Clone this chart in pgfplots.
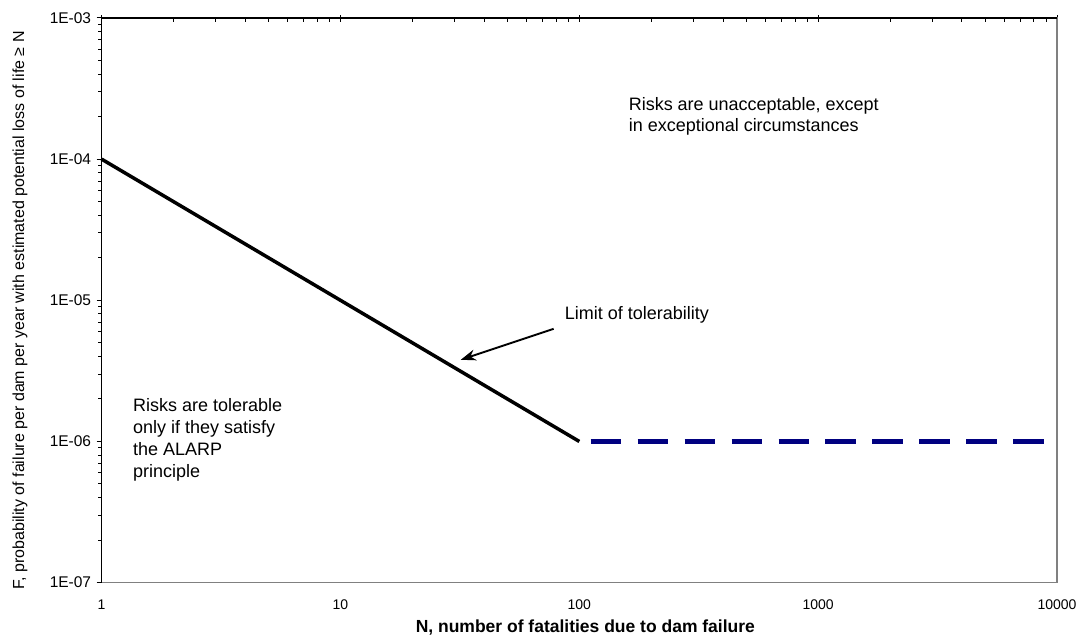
\documentclass[border=0pt]{standalone}
\usepackage{pgfplots}
\pgfplotsset{compat=1.18}
\usetikzlibrary{arrows.meta}
\usepackage{fontspec}
\setmainfont{Liberation Sans}
\definecolor{navyline}{RGB}{0,0,128}
\definecolor{frame}{RGB}{128,128,128}
\begin{document}
\begin{tikzpicture}
\begin{axis}[
  scale only axis,
  width=956pt, height=565pt,
  xmode=log, ymode=log,
  xmin=1, xmax=10000, ymin=1e-7, ymax=1e-3,
  axis line style={draw=frame, line width=1.3pt},
  xtick={1,10,100,1000,10000},
  xticklabels={1,10,100,1000,10000},
  ytick={1e-7,1e-6,1e-5,1e-4,1e-3},
  yticklabels={1E-07,1E-06,1E-05,1E-04,1E-03},
  xtick pos=right, xticklabel pos=left,
  ytick pos=left, yticklabel pos=left,
  tick align=outside,
  major tick length=5pt, minor tick length=3.6pt,
  every tick/.style={black, line width=1pt},
  minor x tick style={yshift=-3.6pt},
  major x tick style={yshift=-2.5pt},
  /pgf/number format/assume math mode=true,
  xticklabel style={font=\fontsize{14}{16}\selectfont, yshift=-9pt},
  yticklabel style={font=\fontsize{15.5}{18}\selectfont, xshift=-2pt},
  xlabel={N, number of fatalities due to dam failure},
  ylabel={F, probability of failure per dam per year with estimated potential loss of life ≥ N},
  xlabel style={font=\bfseries\fontsize{17.5}{19}\selectfont, at={(rel axis cs:0.5,0)}, anchor=center, xshift=6pt, yshift=-45pt},
  ylabel style={font=\fontsize{16}{18}\selectfont, at={(rel axis cs:0,0.5)}, anchor=center, yshift=81.7pt, xshift=-10pt},
  clip=false,
]
\addplot[black, line width=3.5pt] coordinates {(1,1e-4) (100,1e-6)};
\addplot[navyline, line width=4.7pt, dash pattern=on 30.7pt off 16.3pt, dash phase=35.7pt] coordinates {(100,1e-6) (10000,1e-6)};
\draw[black, line width=1.3pt] (rel axis cs:0,0) -- (rel axis cs:0,1) -- (rel axis cs:1,1);
\draw[black, line width=1.9pt, -{Stealth[length=15pt,width=11pt]}] (axis cs:78.1,6.28e-6) -- (axis cs:31.9,3.79e-6);
\node[anchor=base west, font=\fontsize{18}{21}\selectfont, inner sep=0pt] at (axis cs:86.8,7.36e-6) {Limit of tolerability};
\node[anchor=base west, font=\fontsize{18}{21}\selectfont, inner sep=0pt] at (axis cs:160.8,2.21e-4) {Risks are unacceptable, except};
\node[anchor=base west, font=\fontsize{18}{21}\selectfont, inner sep=0pt] at (axis cs:160.8,1.56e-4) {in exceptional circumstances};
\node[anchor=base west, font=\fontsize{18}{21}\selectfont, inner sep=0pt] at (axis cs:1.353,1.626e-6) {Risks are tolerable};
\node[anchor=base west, font=\fontsize{18}{21}\selectfont, inner sep=0pt] at (axis cs:1.353,1.135e-6) {only if they satisfy};
\node[anchor=base west, font=\fontsize{18}{21}\selectfont, inner sep=0pt] at (axis cs:1.353,7.93e-7) {the ALARP};
\node[anchor=base west, font=\fontsize{18}{21}\selectfont, inner sep=0pt] at (axis cs:1.353,5.53e-7) {principle};
\end{axis}
\pgfresetboundingbox
\path[use as bounding box] ([shift={(-101.7pt,-56pt)}]current axis.south west) rectangle ([shift={(29pt,18pt)}]current axis.north east);
\end{tikzpicture}
\end{document}
